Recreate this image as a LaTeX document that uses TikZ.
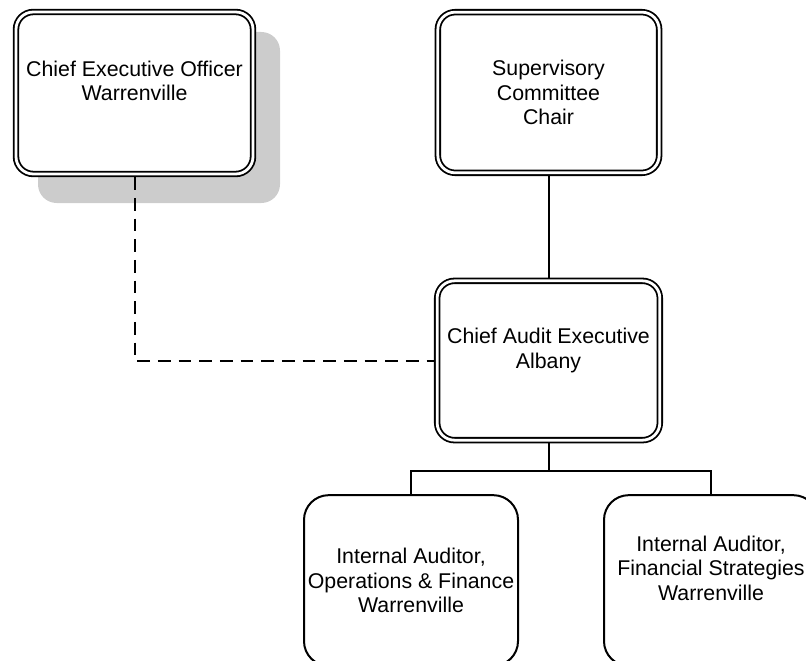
\documentclass[tikz,border=0pt]{standalone}
\usepackage{fontspec}
\setmainfont{Liberation Sans}

\definecolor{OrgShadow}{RGB}{204,204,204}

\begin{document}
\begin{tikzpicture}[x=0.75pt,y=-0.75pt,font=\fontsize{16}{18.5}\selectfont,
  headbox/.style={draw,double,line width=1.35pt,double distance=2.1pt,
    rounded corners=13pt,fill=white,align=center,inner sep=0pt,outer sep=2.4pt},
  staffbox/.style={draw,line width=1.5pt,rounded corners=18.5pt,fill=white,
    align=center,inner sep=0pt,minimum width=160.5pt,minimum height=128pt},
  reportline/.style={line width=1.5pt},
  advisoryline/.style={line width=1.5pt,dash pattern=on 9.5pt off 6pt}]
  \useasboundingbox (0,0) rectangle (806,660);
  \clip (0,0) rectangle (806,660);

  % shadow behind the chief executive box
  \fill[OrgShadow,rounded corners=14pt] (38,32) rectangle (280,203);

  \node[headbox,minimum width=177.75pt,minimum height=121.5pt] (ceo) at (134.5,93)
    {Chief Executive Officer\\Warrenville\\\mbox{}};
  \node[headbox,minimum width=166pt,minimum height=120.5pt] (chair) at (548.5,92.5)
    {Supervisory\\Committee\\Chair};
  \node[headbox,minimum width=167pt,minimum height=119.5pt] (cae) at (548.5,360.5)
    {Chief Audit Executive\\Albany\\\mbox{}};
  \node[staffbox] (opsaud) at (411,580.5)
    {Internal Auditor,\\Operations \& Finance\\Warrenville};
  \node[staffbox] (finaud) at (711,580.5)
    {Internal Auditor,\\Financial Strategies\\Warrenville\\\mbox{}};

  \draw[reportline] (chair) -- (cae);
  \draw[reportline] (cae.south) -- ++(0,28) -| (opsaud.north);
  \draw[reportline] (cae.south) -- ++(0,28) -| (finaud.north);
  \draw[advisoryline] (ceo.south) |- (cae.west);
\end{tikzpicture}
\end{document}
